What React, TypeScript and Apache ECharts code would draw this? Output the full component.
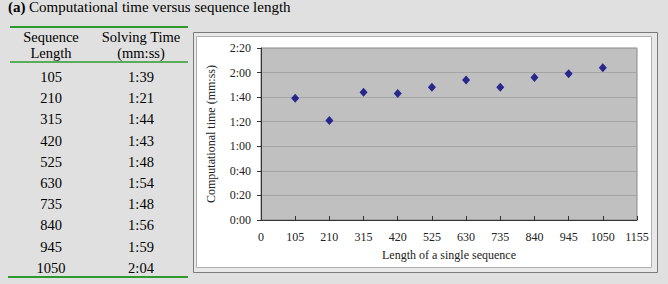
import React, { useEffect, useRef } from "react";
import * as echarts from "echarts";

const seqLengths = [105, 210, 315, 420, 525, 630, 735, 840, 945, 1050];
const solvingSeconds = [99, 81, 104, 103, 108, 114, 108, 116, 119, 124];
const xTicks = { min: 0, max: 1155, interval: 105 };
const yTicks = { min: 0, max: 140, interval: 20 };
const titleBold = "(a)";
const titleText = "Computational time versus sequence length";
const tableHeaders = [["Sequence", "Length"], ["Solving Time", "(mm:ss)"]];
const xAxisTitle = "Length of a single sequence";
const yAxisTitle = "Computational time (mm:ss)";

const fmt = (v: number) => `${Math.floor(v / 60)}:${String(Math.round(v % 60)).padStart(2, "0")}`;

const FONT = "'Liberation Serif', 'Times New Roman', serif";

export default function App() {
  const ref = useRef<HTMLDivElement>(null);
  useEffect(() => {
    if (!ref.current) return;
    const chart = echarts.init(ref.current, undefined, { renderer: "svg" });
    const col1 = 51;
    const col2 = 141;
    const rowStart = 77;
    const rowStep = 21.2;
    const txt = (x: number, y: number, text: string, size = 14.5, weight = "normal", align = "center") => ({
      type: "text",
      x,
      y,
      style: {
        text,
        fontFamily: FONT,
        fontSize: size,
        fontWeight: weight,
        fill: "#000",
        align,
        verticalAlign: "middle",
      },
    });
    const tableText: any[] = [];
    tableHeaders.forEach((lines, ci) => {
      lines.forEach((t, li) => {
        tableText.push(txt(ci === 0 ? col1 : col2, 37 + li * 16, t));
      });
    });
    seqLengths.forEach((l, i) => {
      tableText.push(txt(col1, rowStart + i * rowStep, String(l)));
      tableText.push(txt(col2, rowStart + i * rowStep, fmt(solvingSeconds[i])));
    });

    chart.setOption({
      animation: false,
      backgroundColor: "#e0e0e0",
      graphic: [
        { type: "rect", z: -10, shape: { x: 193.5, y: 32.5, width: 464, height: 240 }, style: { fill: "#e8e8e8", stroke: "#7a7a7a", lineWidth: 1 } },
        { type: "rect", z: -9, shape: { x: 196.5, y: 36.5, width: 455, height: 231 }, style: { fill: "#ffffff", stroke: "#b0b0b0", lineWidth: 1 } },
        { type: "rect", z: -8, shape: { x: 261, y: 48, width: 376, height: 172 }, style: { fill: "#c0c0c0", stroke: "#888888", lineWidth: 1 } },
        txt(8, 7, titleBold, 15, "bold", "left"),
        txt(29, 7, titleText, 15, "normal", "left"),
        { type: "line", shape: { x1: 10, y1: 27, x2: 188, y2: 27 }, style: { stroke: "#2e9a2e", lineWidth: 2 } },
        { type: "line", shape: { x1: 10, y1: 62, x2: 188, y2: 62 }, style: { stroke: "#2e9a2e", lineWidth: 1.5 } },
        { type: "line", shape: { x1: 8, y1: 277, x2: 188, y2: 277 }, style: { stroke: "#2e9a2e", lineWidth: 2 } },
        ...tableText,
      ],
      grid: { left: 261, top: 48, right: 31, bottom: 64, show: false },
      xAxis: {
        type: "value",
        min: xTicks.min,
        max: xTicks.max,
        interval: xTicks.interval,
        name: xAxisTitle,
        nameLocation: "middle",
        nameGap: 29,
        nameTextStyle: { fontFamily: FONT, fontSize: 12, color: "#222" },
        axisLine: { show: true, lineStyle: { color: "#333", width: 1 } },
        axisTick: { show: true, inside: true, length: 4, lineStyle: { color: "#333" } },
        axisLabel: { fontFamily: FONT, fontSize: 12, color: "#222", margin: 11, showMinLabel: true, showMaxLabel: true, formatter: (v: number) => String(v) },
        splitLine: { show: false },
      },
      yAxis: {
        type: "value",
        min: yTicks.min,
        max: yTicks.max,
        interval: yTicks.interval,
        name: yAxisTitle,
        nameLocation: "middle",
        nameRotate: 90,
        nameGap: 44,
        nameTextStyle: { fontFamily: FONT, fontSize: 12, color: "#222" },
        axisLine: { show: true, lineStyle: { color: "#333", width: 1 } },
        axisTick: { show: true, inside: false, length: 4, lineStyle: { color: "#333" } },
        axisLabel: { fontFamily: FONT, fontSize: 12, color: "#222", margin: 10, formatter: (v: number) => fmt(v) },
        splitLine: { show: true, lineStyle: { color: "#a4a4a4", width: 1 } },
      },
      series: [
        {
          type: "scatter",
          data: seqLengths.map((l, i) => [l, solvingSeconds[i]]),
          symbol: "diamond",
          symbolSize: [8, 9],
          itemStyle: { color: "#000080" },
        },
      ],
    });
    return () => chart.dispose();
  }, []);
  return <div ref={ref} style={{ position: "fixed", left: 0, top: 0, width: 668, height: 284 }} />;
}
